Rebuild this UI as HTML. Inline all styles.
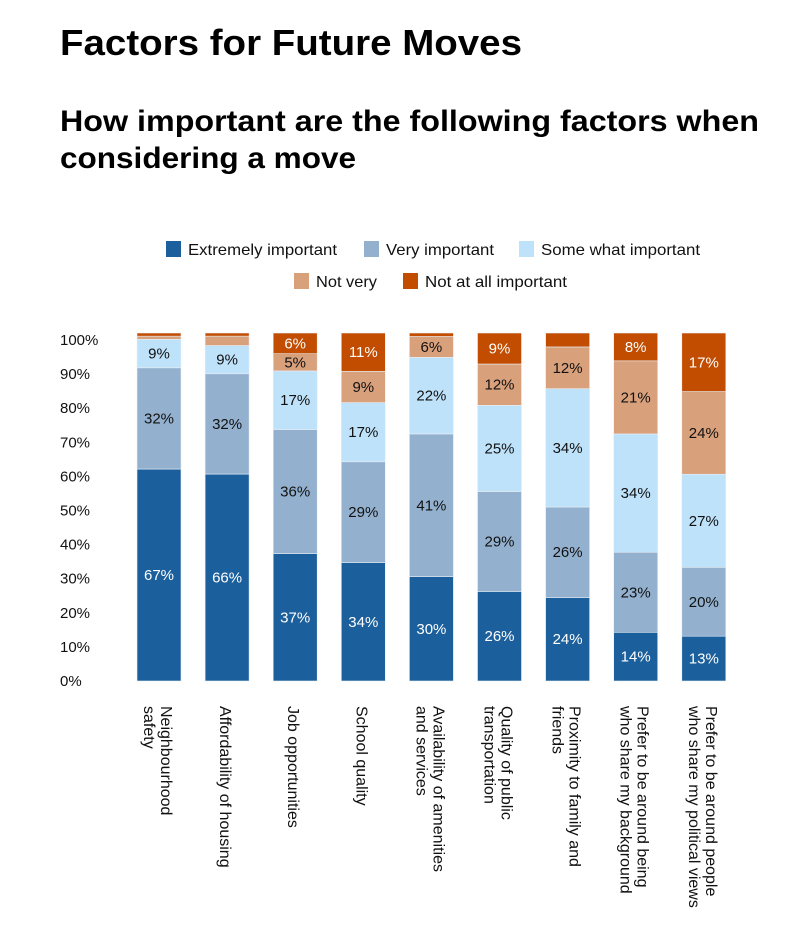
<!DOCTYPE html>
<html><head><meta charset="utf-8">
<style>
html,body{margin:0;padding:0;background:#fff;}
svg{display:block;font-family:"Liberation Sans",Arial,sans-serif;}
</style></head>
<body>
<svg id="chart" width="800" height="932" viewBox="0 0 800 932">
<text x="60" y="55" font-size="36" font-weight="bold" textLength="462" lengthAdjust="spacingAndGlyphs">Factors for Future Moves</text>
<text x="60" y="131" font-size="30" font-weight="bold" textLength="699" lengthAdjust="spacingAndGlyphs">How important are the following factors when</text>
<text x="60" y="168" font-size="30" font-weight="bold" textLength="296" lengthAdjust="spacingAndGlyphs">considering a move</text>
<g id="legend"></g>
<g id="yaxis"></g>
<g id="bars"></g>
<g id="xaxis"></g>
</svg>
<script>
const categories = [["Neighbourhood","safety"],["Affordability of housing"],["Job opportunities"],["School quality"],["Availability of amenities","and services"],["Quality of public","transportation"],["Proximity to family and","friends"],["Prefer to be around being","who share my background"],["Prefer to be around people","who share my political views"]];
const seriesNames = ["Extremely important","Very important","Some what important","Not very","Not at all important"];
const extremely = [67,66,37,34,30,26,24,14,13];
const very = [32,32,36,29,41,29,26,23,20];
const somewhat = [9,9,17,17,22,25,34,34,27];
const notVery = [1,3,5,9,6,12,12,21,24];
const notAtAll = [1,1,6,11,1,9,4,8,17];
const yTicks = [0,10,20,30,40,50,60,70,80,90,100];

const NS = "http://www.w3.org/2000/svg";
const colors = ["#1b5f9c","#93b1cf","#bfe2fb","#d9a07c","#c24c00"];
const textColors = ["#fff","#111","#111","#111","#fff"];
const series = [extremely, very, somewhat, notVery, notAtAll];
const y0 = 681, y100 = 340, barTop = 333, x0 = 137, step = 68.1, bw = 44;
function yScale(p){ return y0 - (y0 - y100) * p / 100; }
function xScale(i){ return x0 + i * step; }
function mk(tag, attrs, parent){ const e = document.createElementNS(NS, tag); for (const k in attrs) e.setAttribute(k, attrs[k]); parent.appendChild(e); return e; }

// legend
const leg = document.getElementById('legend');
const legPos = [[166,249],[364,249],[519,249],[294,281],[403,281]];
const legW = [149,108,159,61,142];
seriesNames.forEach((n, i) => {
  const r = mk('rect', {x: legPos[i][0], y: legPos[i][1]-8, width: 15, height: 16, fill: colors[i]}, leg);
  
  
  const t = mk('text', {x: legPos[i][0]+22, y: legPos[i][1]+6, 'font-size': 16, fill: '#111', textLength: legW[i], lengthAdjust: 'spacingAndGlyphs'}, leg);
  t.textContent = n;
  
  
});

// y axis
const ya = document.getElementById('yaxis');
yTicks.forEach(v => {
  const t = mk('text', {x: 60, y: yScale(v) + 5, 'font-size': 15, fill: '#111'}, ya);
  t.textContent = v + '%';
  
  
});

// bars
const bars = document.getElementById('bars');
categories.forEach((c, i) => {
  const vals = series.map(s => s[i]);
  const total = vals.reduce((a, b) => a + b, 0);
  const pxPer = (y0 - barTop) / total;
  let cur = y0;
  vals.forEach((v, k) => {
    const h = v * pxPer;
    const r = mk('rect', {x: xScale(i), y: cur - h, width: bw, height: h, fill: colors[k], stroke: '#e8eef4', 'stroke-width': 0.6}, bars);
    
    
    if (v >= 5) {
      const t = mk('text', {x: xScale(i) + bw/2, y: cur - h/2 + 5, 'font-size': 15, 'text-anchor': 'middle', fill: textColors[k]}, bars);
      t.textContent = v + '%';
      
      
    }
    cur -= h;
  });
});

// x axis labels (rotated 90deg clockwise)
const xa = document.getElementById('xaxis');
categories.forEach((lines, i) => {
  const cx = xScale(i) + bw/2;
  const n = lines.length;
  const lh = 17;
  const g = mk('g', {transform: 'translate(' + (cx - 7 + (n-1)*9) + ',706) rotate(90)'}, xa);
  
  
  lines.forEach((ln, j) => {
    const t = mk('text', {x: 0, y: j * lh, 'font-size': 16, fill: '#111'}, g);
    t.textContent = ln;
    
    
  });
});
</script>
</body></html>
